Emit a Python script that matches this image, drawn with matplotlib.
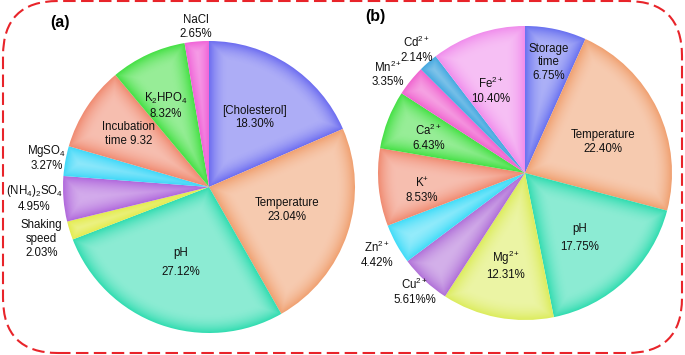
import numpy as np
import matplotlib
matplotlib.use('Agg')
import matplotlib.pyplot as plt
from matplotlib.patches import FancyBboxPatch

plt.rcParams['font.family'] = ['Liberation Sans', 'DejaVu Sans']
plt.rcParams['mathtext.fontset'] = 'custom'
plt.rcParams['mathtext.rm'] = 'Liberation Sans'
plt.rcParams['mathtext.it'] = 'Liberation Sans:italic'
plt.rcParams['mathtext.bf'] = 'Liberation Sans:bold'
plt.rcParams['mathtext.default'] = 'regular'

# ---------------- data ----------------
factors_a = ['[Cholesterol]', 'Temperature', 'pH', 'Shaking speed', '(NH4)2SO4',
             'MgSO4', 'Incubation time', 'K2HPO4', 'NaCl']
values_a = [18.30, 23.04, 27.12, 2.03, 4.95, 3.27, 9.32, 8.32, 2.65]
labels_a = ['[Cholesterol]\n18.30%', 'Temperature\n23.04%', 'pH\n27.12%',
            'Shaking\nspeed\n2.03%', '(NH$_4$)$_2$SO$_4$\n4.95%', 'MgSO$_4$\n3.27%',
            'Incubation\ntime 9.32', 'K$_2$HPO$_4$\n8.32%', 'NaCl\n2.65%']
colors_a = ['#6c6cf0', '#f0a070', '#30dcb0', '#e4ec50', '#b068dc',
            '#40d8f8', '#f08a70', '#44e044', '#f064d8']

factors_b = ['Storage time', 'Temperature', 'pH', 'Mg2+', 'Cu2+', 'Zn2+',
             'K+', 'Ca2+', 'Mn2+', 'Cd2+', 'Fe2+']
values_b = [6.75, 22.40, 17.75, 12.31, 5.61, 4.42, 8.53, 6.43, 3.35, 2.14, 10.40]
labels_b = ['Storage\ntime\n6.75%', 'Temperature\n22.40%', 'pH\n17.75%',
            'Mg$^{2+}$\n12.31%', 'Cu$^{2+}$\n5.61%%', 'Zn$^{2+}$\n4.42%',
            'K$^{+}$\n8.53%', 'Ca$^{2+}$\n6.43%', 'Mn$^{2+}$\n3.35%',
            'Cd$^{2+}$\n2.14%', 'Fe$^{2+}$\n10.40%']
colors_b = ['#6870f0', '#f0a070', '#30dcb0', '#dcec5c', '#b070d8', '#40dcf8',
            '#f08a70', '#44e044', '#f064d0', '#44a8e0', '#f08cec']

panel_titles = ['(a)', '(b)']

# ---------------- layout / style ----------------
W, H = 685, 355
fig = plt.figure(figsize=(6.85, 3.55), dpi=100)
ax = fig.add_axes([0, 0, 1, 1])

# label placement (fraction of radius, angular offset in deg, line spacing)
lr_a = [0.57, 0.56, 0.55, 1.20, 1.20, 1.13, 0.66, 0.63, 1.10]
lo_a = [0, 2, -1, 0, -1, 0, 0, 3, 0]
ls_a = [1.2, 1.2, 1.75, 1.2, 1.2, 1.2, 1.2, 1.2, 1.2]
lr_b = [0.77, 0.57, 0.58, 0.64, 1.10, 1.15, 0.71, 0.70, 1.15, 1.12, 0.61]
lo_b = [0, -4, -3, -1, 0, 0, 4, 1, 3, 0, 4]
ls_b = [1.2, 1.2, 1.75, 1.2, 1.2, 1.2, 1.2, 1.2, 1.2, 1.2, 1.2]


def draw_pie(values, colors, labels, center, radius, lr, lo, ls):
    wedges, _ = ax.pie(values, colors=colors, radius=radius, center=center,
                       startangle=90, counterclock=False,
                       wedgeprops=dict(linewidth=0))
    for w, lab, r, off, sp in zip(wedges, labels, lr, lo, ls):
        mid = np.deg2rad((w.theta1 + w.theta2) / 2 + off)
        x = center[0] + r * radius * np.cos(mid)
        y = center[1] + r * radius * np.sin(mid)
        ax.text(x, y, lab, ha='center', va='center', fontsize=8.3,
                linespacing=sp, zorder=5, color='#111111')
    return wedges


ca, Ra = (209, H - 187), 146
cb, Rb = (525, H - 173), 147
wa = draw_pie(values_a, colors_a, labels_a, ca, Ra, lr_a, lo_a, ls_a)
wb = draw_pie(values_b, colors_b, labels_b, cb, Rb, lr_b, lo_b, ls_b)

# ---- shading overlay (lighter interior, saturated rims) ----
S = 2
xs = (np.arange(W * S) + 0.5) / S
ys = (np.arange(H * S) + 0.5) / S
X, Y = np.meshgrid(xs, ys)
dist = np.full(X.shape, -1.0)
for (cx, cy), R, wedges in [(ca, Ra, wa), (cb, Rb, wb)]:
    dx, dy = X - cx, Y - cy
    r = np.hypot(dx, dy)
    phi = np.degrees(np.arctan2(dy, dx))
    inside = r < R
    for w in wedges:
        t1, t2 = w.theta1, w.theta2
        span = t2 - t1
        rel = (phi - t1) % 360
        m = inside & (rel <= span)
        a1 = np.radians(np.minimum(rel, 90))
        a2 = np.radians(np.minimum(span - rel, 90))
        dd = np.minimum(R - r, np.minimum(r * np.sin(a1), r * np.sin(a2)))
        dist[m] = dd[m]
wd = 20.0
t = np.clip(dist / wd, 0, 1)
alpha = 0.45 * (1 - (1 - t) ** 2)
alpha[dist < 0] = 0
img = np.zeros(X.shape + (4,))
img[..., :3] = 1.0
img[..., 3] = alpha
ax.imshow(img, extent=(0, W, 0, H), origin='lower', zorder=3,
          interpolation='bilinear')

# panel titles
ax.text(60, H - 23, panel_titles[0], fontsize=11.5, fontweight='bold',
        ha='center', va='center', zorder=6)
ax.text(375, H - 17, panel_titles[1], fontsize=11.5, fontweight='bold',
        ha='center', va='center', zorder=6)

# dashed rounded frame
box = FancyBboxPatch((3, 2), 679, 352,
                     boxstyle='round,pad=0,rounding_size=55',
                     fill=False, ec='#e8242a', lw=1.5,
                     linestyle=(0, (6, 2.6)), zorder=6, clip_on=False)
ax.add_patch(box)

ax.set_xlim(0, W)
ax.set_ylim(0, H)
ax.set_aspect('auto')
ax.axis('off')

fig.savefig('out.png', dpi=100)
